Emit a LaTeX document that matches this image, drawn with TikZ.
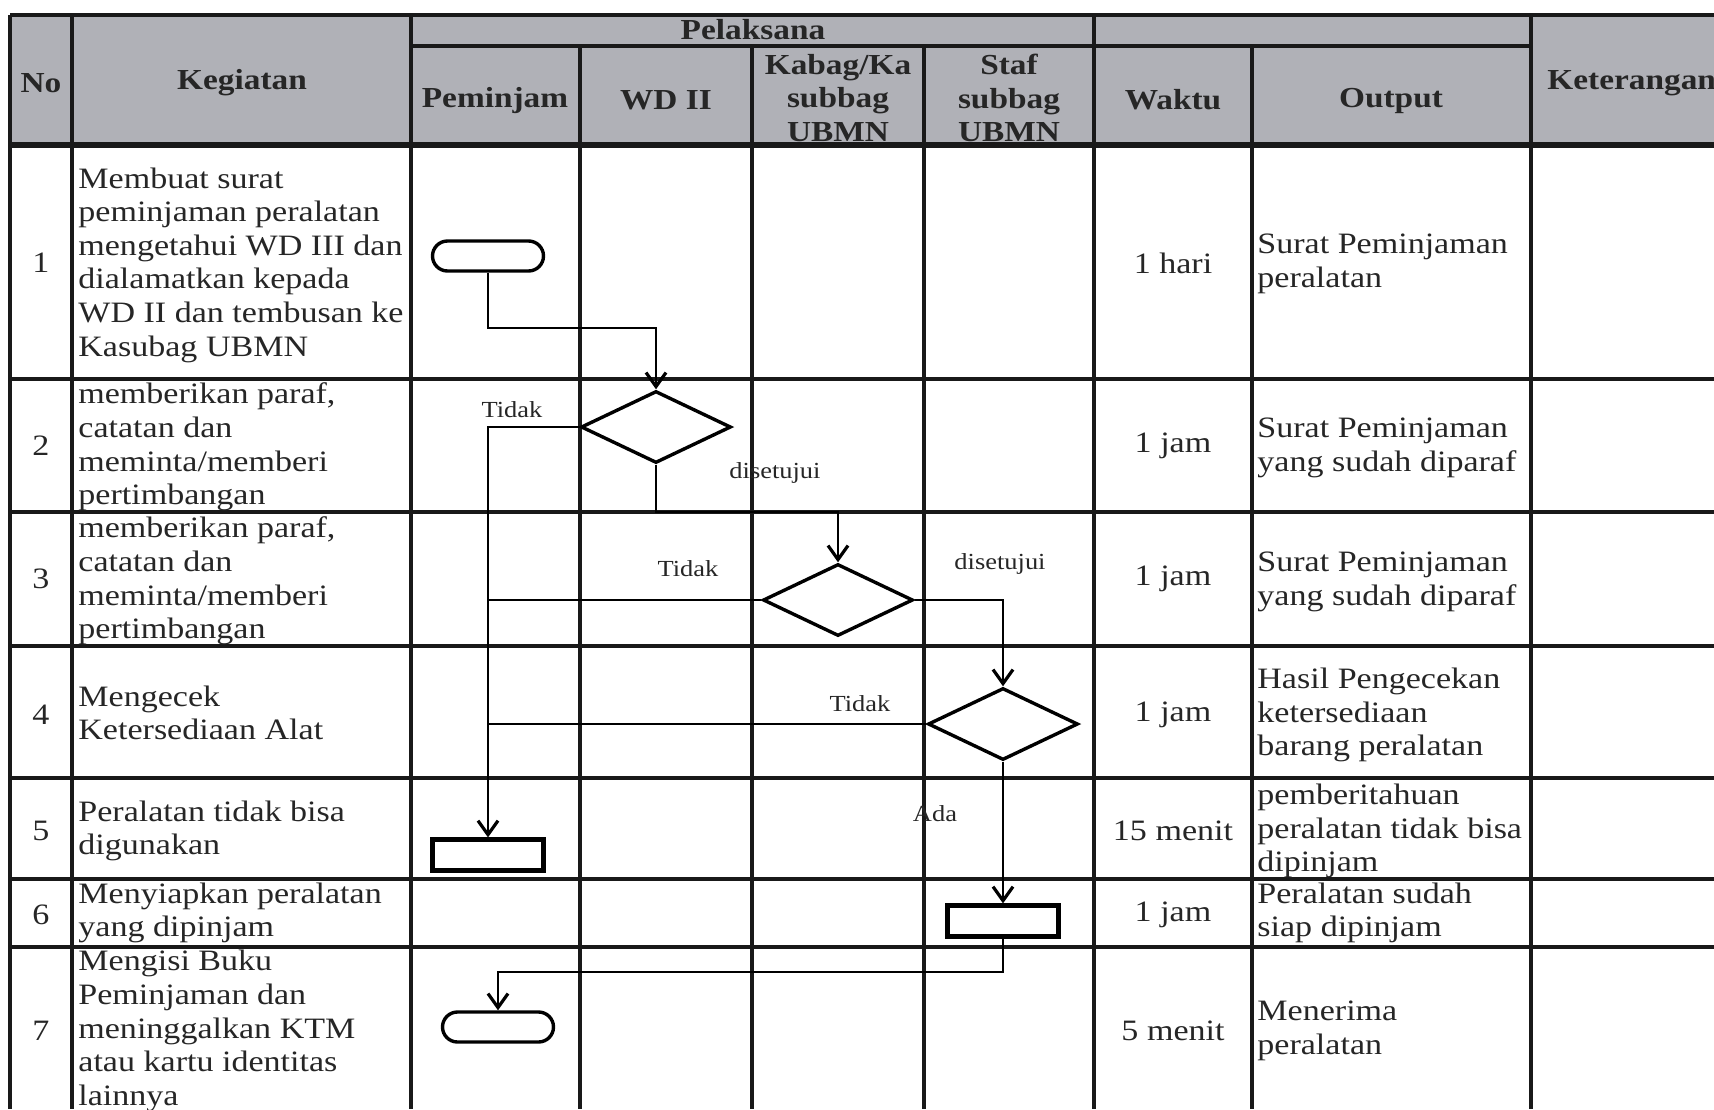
\documentclass[tikz,border=0pt]{standalone}
\usepackage{fontspec}
\setmainfont{Liberation Serif}[FakeStretch=1.15]
\usetikzlibrary{shapes.geometric,arrows.meta,calc}
\definecolor{hdrgray}{RGB}{176,177,183}
\begin{document}
\begin{tikzpicture}[x=0.5pt,y=-0.5pt,
  grid/.style={line width=1.8pt,black!90},
  txt/.style={font=\fontsize{14.8}{16.8}\selectfont, inner sep=0pt, align=left, text=black!85},
  hd/.style={font=\fontsize{14.5}{16.6}\selectfont\bfseries, inner sep=0pt, align=center, text=black!85},
  lbl/.style={font=\fontsize{11.5}{13}\selectfont, inner sep=0pt, text=black!85},
  term/.style={draw, line width=1.7pt, rounded corners=7.5pt, minimum width=55.5pt, minimum height=15pt, inner sep=0pt},
  proc/.style={draw, line width=2.1pt, minimum width=55.5pt, minimum height=15.5pt, inner sep=0pt},
  dec/.style={draw, diamond, line width=1.7pt, minimum width=75pt, minimum height=36pt, inner sep=0pt},
  conn/.style={line width=1.4pt},
  arr/.style={conn, -{Straight Barb[length=7pt,width=10pt,line width=1.6pt]}},
]
\useasboundingbox (0,0) rectangle (1714,1109);
\clip (0,0) rectangle (1714,1109);
\fill[white] (0,0) rectangle (1714,1109);
% header background
\fill[hdrgray] (10,15) rectangle (1714,145);
% horizontal grid lines
\draw[grid] (10,15) -- (1714,15);
\draw[grid] (411,46) -- (1531,46);
\draw[line width=2.8pt,black!90] (10,145) -- (1714,145);
\foreach \yy in {379,512,646,778,879,947} \draw[grid] (10,\yy) -- (1714,\yy);
% vertical grid lines
\foreach \xx in {10,72,411,1094,1531} \draw[grid] (\xx,15) -- (\xx,1109);
\foreach \xx in {580,752,924,1252} \draw[grid] (\xx,46) -- (\xx,1109);

% header text
\node[hd] (hNo) at (41,83) {No};
\node[hd] (hKeg) at (242,83) {Kegiatan};
\node[hd] (hPel) at (753,30) {Pelaksana};
\node[hd] (hPem) at (495,101) {Peminjam};
\node[hd] (hWD) at (666,100) {WD II};
\node[hd] (hKab) at (838,98) {Kabag/Ka\\subbag\\UBMN};
\node[hd] (hStaf) at (1009,98) {Staf\\subbag\\UBMN};
\node[hd] (hWak) at (1173,100) {Waktu};
\node[hd] (hOut) at (1391,101) {Output};
\node[hd,anchor=west] (hKet) at (1547,83) {Keterangan};

% numbers
\node[txt] (n1) at (41,263) {1};
\node[txt] (n2) at (41,446) {2};
\node[txt] (n3) at (41,579) {3};
\node[txt] (n4) at (41,715) {4};
\node[txt] (n5) at (41,831) {5};
\node[txt] (n6) at (41,915) {6};
\node[txt] (n7) at (41,1031) {7};

% kegiatan
\node[txt,anchor=west] (k1) at (78,265) {Membuat surat\\peminjaman peralatan\\mengetahui WD III dan\\dialamatkan kepada\\WD II dan tembusan ke\\Kasubag UBMN};
\node[txt,anchor=west] (k2) at (78,447) {memberikan paraf,\\catatan dan\\meminta/memberi\\pertimbangan};
\node[txt,anchor=west] (k3) at (78,581) {memberikan paraf,\\catatan dan\\meminta/memberi\\pertimbangan};
\node[txt,anchor=west] (k4) at (78,713) {Mengecek\\Ketersediaan Alat};
\node[txt,anchor=west] (k5) at (78,831) {Peralatan tidak bisa\\digunakan};
\node[txt,anchor=west] (k6) at (78,913) {Menyiapkan peralatan\\yang dipinjam};
\node[txt,anchor=west] (k7) at (78,1031) {Mengisi Buku\\Peminjaman dan\\meninggalkan KTM\\atau kartu identitas\\lainnya};

% waktu
\node[txt] (w1) at (1173,263) {1 hari};
\node[txt] (w2) at (1173,446) {1 jam};
\node[txt] (w3) at (1173,579) {1 jam};
\node[txt] (w4) at (1173,715) {1 jam};
\node[txt] (w5) at (1173,831) {15 menit};
\node[txt] (w6) at (1173,915) {1 jam};
\node[txt] (w7) at (1173,1031) {5 menit};

% output
\node[txt,anchor=west] (o1) at (1257,264) {Surat Peminjaman\\peralatan};
\node[txt,anchor=west] (o2) at (1257,448) {Surat Peminjaman\\yang sudah diparaf};
\node[txt,anchor=west] (o3) at (1257,582) {Surat Peminjaman\\yang sudah diparaf};
\node[txt,anchor=west] (o4) at (1257,715) {Hasil Pengecekan\\ketersediaan\\barang peralatan};
\node[txt,anchor=west] (o5) at (1257,831) {pemberitahuan\\peralatan tidak bisa\\dipinjam};
\node[txt,anchor=west] (o6) at (1257,913) {Peralatan sudah\\siap dipinjam};
\node[txt,anchor=west] (o7) at (1257,1031) {Menerima\\peralatan};

% flow shapes
\node[term] (term1) at (488,256) {};
\node[dec] (dec1) at (656,427) {};
\node[dec] (dec2) at (838,600) {};
\node[dec] (dec3) at (1003,724) {};
\node[proc] (rect5) at (488,855) {};
\node[proc] (rect6) at (1003,921) {};
\node[term] (term7) at (498,1027) {};

% labels
\node[lbl] (t1) at (512,410) {Tidak};
\node[lbl] (s1) at (775,473) {disetujui};
\node[lbl] (t2) at (688,569) {Tidak};
\node[lbl] (s2) at (1000,564) {disetujui};
\node[lbl] (t3) at (860,704) {Tidak};
\node[lbl] (ada) at (935,814) {Ada};

% connectors
\coordinate (b1) at (488,328);
\coordinate (b2) at (656,512);
\coordinate (b3) at (1003,972);
\draw[arr] (term1.south) -- (b1) -| (dec1.north);
\draw[arr] (dec1.west) -| (rect5.north);
\draw[arr] (dec1.south) -- (b2) -| (dec2.north);
\draw[conn] (dec2.west) -- (dec2.west -| rect5.north);
\draw[arr] (dec2.east) -| (dec3.north);
\draw[conn] (dec3.west) -- (dec3.west -| rect5.north);
\draw[arr] (dec3.south) -- (rect6.north);
\draw[arr] (rect6.south) -- (b3) -| (term7.north);
\end{tikzpicture}
\end{document}
